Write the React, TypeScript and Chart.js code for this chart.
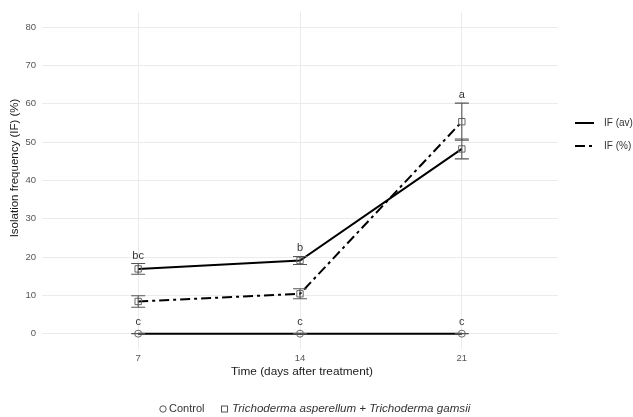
import React, { useEffect, useRef } from "react";
import { Chart, registerables } from "chart.js";

Chart.register(...registerables);

const days = [7, 14, 21];
const yTicks = [0, 10, 20, 30, 40, 50, 60, 70, 80];
const controlValues = [0, 0, 0];
const controlErr = [0, 0, 0];
const trichoAv = [16.9, 19.1, 48.2];
const trichoAvErr = [1.4, 1.05, 2.6];
const trichoPct = [8.4, 10.4, 55.3];
const trichoPctErr = [1.5, 1.3, 4.85];
const trichoLetters = ["bc", "b", "a"];
const controlLetters = ["c", "c", "c"];
const seriesLegend = ["IF (av)", "IF (%)"];
const treatmentLegend = ["Control", "Trichoderma asperellum + Trichoderma gamsii"];

const FONT = "'Liberation Sans', Arial, Helvetica, sans-serif";

export default function App() {
  const ref = useRef<HTMLCanvasElement | null>(null);

  useEffect(() => {
    document.body.style.margin = "0";
    const canvas = ref.current;
    if (!canvas) return;

    const toPts = (vals: number[]) => vals.map((v, i) => ({ x: days[i], y: v }));
    const errSets = [
      { vals: controlValues, err: controlErr },
      { vals: trichoAv, err: trichoAvErr },
      { vals: trichoPct, err: trichoPctErr },
    ];

    const overlay = {
      id: "overlay",
      afterDatasetsDraw(chart: any) {
        const ctx = chart.ctx;
        const xs = chart.scales.x;
        const ys = chart.scales.y;
        ctx.save();
        ctx.strokeStyle = "#555";
        ctx.lineWidth = 1.1;
        errSets.forEach((s) => {
          s.vals.forEach((v, i) => {
            const px = xs.getPixelForValue(days[i]);
            const top = ys.getPixelForValue(v + s.err[i]);
            const bot = ys.getPixelForValue(v - s.err[i]);
            ctx.beginPath();
            ctx.moveTo(px, top);
            ctx.lineTo(px, bot);
            ctx.moveTo(px - 7, top);
            ctx.lineTo(px + 7, top);
            ctx.moveTo(px - 7, bot);
            ctx.lineTo(px + 7, bot);
            ctx.stroke();
          });
        });
        // letters
        ctx.fillStyle = "#333";
        ctx.font = `11px ${FONT}`;
        ctx.textAlign = "center";
        ctx.textBaseline = "middle";
        trichoLetters.forEach((t, i) => {
          const topVal = Math.max(trichoAv[i] + trichoAvErr[i], trichoPct[i] + trichoPctErr[i]);
          const px = xs.getPixelForValue(days[i]);
          ctx.fillText(t, px, ys.getPixelForValue(topVal) - 8);
        });
        controlLetters.forEach((t, i) => {
          const px = xs.getPixelForValue(days[i]);
          ctx.fillText(t, px, ys.getPixelForValue(controlValues[i] + controlErr[i]) - 12);
        });
        ctx.restore();
      },
      afterDraw(chart: any) {
        const ctx = chart.ctx;
        ctx.save();
        // right legend
        const legY = [123, 146];
        const dashes = [[], [10, 4, 3, 4]];
        seriesLegend.forEach((t, i) => {
          ctx.strokeStyle = "#000";
          ctx.lineWidth = 2;
          ctx.setLineDash(dashes[i]);
          ctx.beginPath();
          ctx.moveTo(575, legY[i]);
          ctx.lineTo(594, legY[i]);
          ctx.stroke();
          ctx.setLineDash([]);
          ctx.fillStyle = "#333";
          ctx.font = `10px ${FONT}`;
          ctx.textAlign = "left";
          ctx.textBaseline = "middle";
          ctx.fillText(t, 604, legY[i]);
        });
        // x title
        ctx.fillStyle = "#1a1a1a";
        ctx.font = `11.8px ${FONT}`;
        ctx.textAlign = "center";
        ctx.textBaseline = "middle";
        ctx.fillText("Time (days after treatment)", 302, 372);
        // y title
        ctx.save();
        ctx.translate(15, 168);
        ctx.rotate(-Math.PI / 2);
        ctx.font = `11.5px ${FONT}`;
        ctx.fillText("Isolation frequency (IF) (%)", 0, 0);
        ctx.restore();
        // bottom legend
        const ly = 409;
        ctx.strokeStyle = "#555";
        ctx.lineWidth = 1;
        ctx.beginPath();
        ctx.arc(163, ly, 3.2, 0, Math.PI * 2);
        ctx.stroke();
        ctx.fillStyle = "#333";
        ctx.font = `11px ${FONT}`;
        ctx.textAlign = "left";
        ctx.fillText(treatmentLegend[0], 169, ly);
        ctx.strokeRect(221.5, ly - 3, 6, 6);
        ctx.font = `italic 11.6px ${FONT}`;
        ctx.fillText(treatmentLegend[1], 232, ly);
        ctx.restore();
      },
    };

    const chart = new Chart(canvas, {
      type: "line",
      data: {
        datasets: [
          {
            label: "Control",
            data: toPts(controlValues),
            borderColor: "#000",
            borderWidth: 2,
            pointStyle: "circle",
            pointRadius: 3.5,
            pointBorderColor: "#666",
            pointBorderWidth: 1,
            pointBackgroundColor: "rgba(0,0,0,0)",
          },
          {
            label: "IF (av)",
            data: toPts(trichoAv),
            borderColor: "#000",
            borderWidth: 2,
            pointStyle: "rect",
            pointRadius: 4.5,
            pointBorderColor: "#666",
            pointBorderWidth: 1,
            pointBackgroundColor: "rgba(0,0,0,0)",
          },
          {
            label: "IF (%)",
            data: toPts(trichoPct),
            borderColor: "#000",
            borderWidth: 2,
            borderDash: [10, 4, 3, 4],
            pointStyle: "rect",
            pointRadius: 4.5,
            pointBorderColor: "#666",
            pointBorderWidth: 1,
            pointBackgroundColor: "rgba(0,0,0,0)",
          },
        ],
      },
      options: {
        responsive: false,
        animation: false,
        layout: { padding: { top: 9, right: 75, left: 0, bottom: 0 } },
        plugins: { legend: { display: false }, tooltip: { enabled: false } },
        scales: {
          x: {
            type: "linear",
            min: 2.84,
            max: 25.16,
            afterBuildTicks: (s: any) => {
              s.ticks = days.map((v) => ({ value: v }));
            },
            afterFit: (s: any) => {
              s.height = 68;
            },
            grid: { color: "#ebebeb", lineWidth: 1, drawTicks: false },
            border: { display: false },
            ticks: { color: "#555", font: { size: 9.5, family: FONT }, padding: 4 },
          },
          y: {
            min: -4,
            max: 84,
            afterBuildTicks: (s: any) => {
              s.ticks = yTicks.map((v) => ({ value: v }));
            },
            afterFit: (s: any) => {
              s.width = 42;
            },
            grid: { color: "#ebebeb", lineWidth: 1, drawTicks: false },
            border: { display: false },
            ticks: { color: "#555", font: { size: 9.5, family: FONT }, padding: 6 },
          },
        },
      },
      plugins: [overlay],
    } as any);

    return () => chart.destroy();
  }, []);

  return (
    <div style={{ width: 633, height: 417, background: "#fff" }}>
      <canvas ref={ref} width={633} height={417} />
    </div>
  );
}
